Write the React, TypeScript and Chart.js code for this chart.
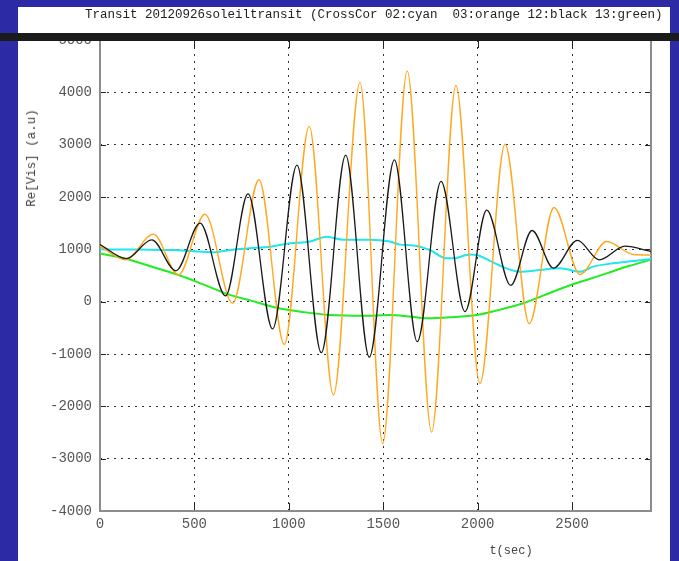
import React, { useEffect, useRef } from "react";
import { Chart, registerables } from "chart.js";

Chart.register(...registerables);

const TITLE = "Transit 20120926soleiltransit (CrossCor 02:cyan  03:orange 12:black 13:green)";
const X_LABEL = "t(sec)";
const Y_LABEL = "Re[Vis] (a.u)";
const X_MIN = 0;
const X_MAX = 2918;
const Y_MIN = -4000;
const Y_MAX = 5000;
const X_TICKS = [0, 500, 1000, 1500, 2000, 2500];
const Y_TICKS = [-4000, -3000, -2000, -1000, 0, 1000, 2000, 3000, 4000, 5000];

// 02: cyan
const cyanT = [0, 200, 400, 477, 600, 688, 794, 900, 1006, 1112, 1200, 1289, 1430, 1535, 1589, 1659, 1747, 1836, 1870, 1960, 1995, 2065, 2153, 2224, 2330, 2436, 2542, 2612, 2717, 2824, 2918];
const cyanV = [1000, 995, 985, 968, 942, 987, 1019, 1051, 1115, 1150, 1242, 1185, 1185, 1150, 1090, 1075, 987, 828, 828, 900, 892, 780, 637, 573, 605, 637, 573, 669, 733, 777, 815];

// 03: orange
const orangeT = [0, 135, 283, 415, 556, 702, 842, 976, 1108, 1236, 1377, 1497, 1627, 1756, 1885, 2012, 2145, 2273, 2404, 2542, 2683, 2824, 2918];
const orangeV = [1060, 800, 1290, 510, 1670, -30, 2330, -816, 3350, -1784, 4190, -2710, 4410, -2490, 4130, -1565, 3010, -420, 1800, 520, 1150, 900, 890];

// 12: black
const blackT = [0, 140, 274, 402, 530, 665, 784, 914, 1043, 1172, 1301, 1426, 1559, 1680, 1806, 1933, 2048, 2175, 2288, 2401, 2528, 2644, 2780, 2918];
const blackV = [1090, 822, 1180, 590, 1500, 110, 2060, -520, 2610, -975, 2800, -1060, 2710, -764, 2300, -190, 1750, 310, 1360, 640, 1170, 800, 1060, 960];

// 13: green
const greenT = [0, 141, 300, 424, 550, 688, 800, 935, 1080, 1218, 1400, 1535, 1650, 1747, 1850, 1995, 2100, 2241, 2350, 2471, 2580, 2683, 2800, 2918];
const greenV = [920, 815, 640, 500, 325, 130, 20, -115, -200, -255, -270, -255, -290, -318, -300, -255, -170, -30, 120, 290, 420, 540, 680, 800];

const toPts = (t: number[], v: number[]) => t.map((x, i) => ({ x, y: v[i] }));

const framePlugin = {
  id: "frame",
  beforeDatasetsDraw(chart: any) {
    const { ctx, chartArea: a, scales } = chart;
    const xs = scales.x;
    const ys = scales.y;
    ctx.save();
    ctx.strokeStyle = "#222";
    ctx.lineWidth = 1;
    const line = (x1: number, y1: number, x2: number, y2: number) => {
      ctx.beginPath();
      ctx.moveTo(x1, y1);
      ctx.lineTo(x2, y2);
      ctx.stroke();
    };
    xs.ticks.forEach((t: any) => {
      const px = Math.round(xs.getPixelForValue(t.value)) + 0.5;
      if (px <= a.left + 2 || px >= a.right - 2) return;
      line(px, a.bottom, px, a.bottom - 8);
      line(px, a.top, px, a.top + 8);
    });
    ys.ticks.forEach((t: any) => {
      const py = Math.round(ys.getPixelForValue(t.value)) + 0.5;
      if (py <= a.top + 2 || py >= a.bottom - 2) return;
      line(a.left, py, a.left + 6, py);
      line(a.right, py, a.right - 6, py);
    });
    ctx.strokeStyle = "#8c8c8c";
    ctx.lineWidth = 2;
    ctx.strokeRect(a.left, a.top, a.right - a.left, a.bottom - a.top);
    ctx.restore();
  },
};

export default function App() {
  const ref = useRef<HTMLCanvasElement | null>(null);

  useEffect(() => {
    if (!ref.current) return;
    const ds = (label: string, t: number[], v: number[], color: string, w: number) => ({
      label,
      data: toPts(t, v),
      borderColor: color,
      backgroundColor: color,
      borderWidth: w,
      pointRadius: 0,
      fill: false,
      cubicInterpolationMode: "monotone" as const,
    });
    const chart = new Chart(ref.current, {
      type: "line",
      data: {
        datasets: [
          ds("12", blackT, blackV, "#1a1a1a", 1.3),
          ds("03", orangeT, orangeV, "#ffa81e", 1.4),
          ds("02", cyanT, cyanV, "#20e6f2", 2),
          ds("13", greenT, greenV, "#22ec22", 2),
        ],
      },
      options: {
        responsive: false,
        animation: false,
        layout: { padding: { top: 40, right: 28, left: 0, bottom: 0 } },
        plugins: {
          legend: { display: false },
          title: { display: false },
          tooltip: { enabled: false },
        },
        scales: {
          x: {
            type: "linear",
            min: X_MIN,
            max: X_MAX,
            afterBuildTicks: (s: any) => {
              s.ticks = X_TICKS.map((value) => ({ value }));
            },
            afterFit: (s: any) => {
              s.height = 50;
            },
            ticks: {
              padding: 5,
              color: "#555",
              font: { family: "Liberation Mono", size: 14 },
              maxRotation: 0,
              autoSkip: false,
              callback: (v: any) => String(v),
            },
            grid: {
              drawTicks: false,
              lineWidth: 1,
              color: (c: any) => (c.tick && c.tick.value === X_MIN ? "rgba(0,0,0,0)" : "#333"),
            },
            border: { display: false, dash: [2, 5] },
          },
          y: {
            type: "linear",
            min: Y_MIN,
            max: Y_MAX,
            afterBuildTicks: (s: any) => {
              s.ticks = Y_TICKS.map((value) => ({ value }));
            },
            afterFit: (s: any) => {
              s.width = 100;
            },
            ticks: {
              padding: 8,
              color: "#555",
              font: { family: "Liberation Mono", size: 14 },
              autoSkip: false,
              callback: (v: any) => String(v),
            },
            grid: {
              drawTicks: false,
              lineWidth: 1,
              color: (c: any) =>
                c.tick && (c.tick.value === Y_MIN || c.tick.value === Y_MAX) ? "rgba(0,0,0,0)" : "#333",
            },
            border: { display: false, dash: [2, 5] },
          },
        },
      },
      plugins: [framePlugin],
    });
    return () => chart.destroy();
  }, []);

  return (
    <div style={{ position: "absolute", left: 0, top: 0, width: 679, height: 561, background: "#2d2aa6", overflow: "hidden" }}>
      <div style={{ position: "absolute", left: 18, top: 7, width: 652, height: 554, background: "#ffffff" }} />
      <canvas ref={ref} width={679} height={561} style={{ position: "absolute", left: 0, top: 0, width: 679, height: 561 }} />
      <div style={{ position: "absolute", left: 0, top: 33, width: 679, height: 8, background: "#1b1b1b" }} />
      <div
        style={{
          position: "absolute",
          left: 85,
          top: 7,
          lineHeight: "16px",
          fontSize: 12.5,
          fontFamily: "Liberation Mono, monospace",
          color: "#222",
          whiteSpace: "pre",
        }}
      >
        {TITLE}
      </div>
      <div
        style={{
          position: "absolute",
          left: 32,
          top: 158,
          transform: "translate(-50%, -50%) rotate(-90deg)",
          fontSize: 12.5,
          lineHeight: "14px",
          fontFamily: "Liberation Mono, monospace",
          color: "#444",
          whiteSpace: "pre",
        }}
      >
        {Y_LABEL}
      </div>
      <div
        style={{
          position: "absolute",
          left: 511,
          top: 551,
          transform: "translate(-50%, -50%)",
          fontSize: 12,
          lineHeight: "14px",
          fontFamily: "Liberation Mono, monospace",
          color: "#444",
          whiteSpace: "pre",
        }}
      >
        {X_LABEL}
      </div>
    </div>
  );
}
